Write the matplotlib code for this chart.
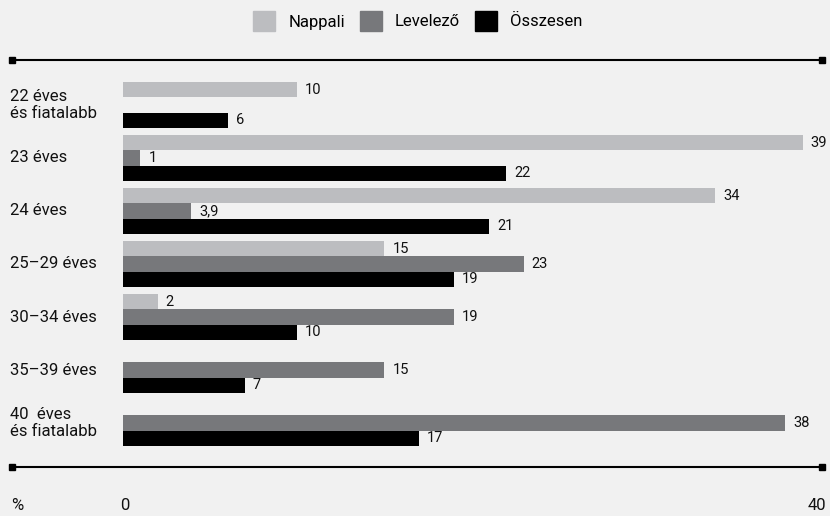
import numpy as np
import matplotlib.pyplot as plt
from matplotlib.lines import Line2D
from matplotlib import transforms

plt.rcParams['font.family'] = ['Liberation Sans Narrow', 'Roboto', 'DejaVu Sans']

categories = ['22 éves\nés fiatalabb', '23 éves', '24 éves', '25–29 éves',
              '30–34 éves', '35–39 éves', '40  éves\nés fiatalabb']
nappali = [10, 39, 34, 15, 2, np.nan, np.nan]
levelezo = [np.nan, 1, 3.9, 23, 19, 15, 38]
osszesen = [6, 22, 21, 19, 10, 7, 17]
xticks = [0, 40]

series = [('Nappali', nappali, '#bcbdc0'),
          ('Levelező', levelezo, '#77787b'),
          ('Összesen', osszesen, '#000000')]

bg = '#f1f1f1'
W, H = 830, 516
fig = plt.figure(figsize=(W / 100, H / 100), dpi=100, facecolor=bg)

# axes box in pixels: x 123..820, y 60..468 (from top)
ax = fig.add_axes([123 / W, 1 - 468 / H, (820 - 123) / W, (468 - 60) / H])
ax.set_facecolor(bg)

bh = 0.292
y = np.arange(len(categories))
for k, (name, vals, col) in enumerate(series):
    off = (k - 1) * bh
    ax.barh(y + off, vals, height=bh, color=col, label=name)
    for yi, v in zip(y, vals):
        if np.isnan(v):
            continue
        txt = f'{v:g}'.replace('.', ',')
        ax.annotate(txt, (v, yi + off), xytext=(8, 0), textcoords='offset pixels',
                    ha='left', va='center', fontsize=10.5, color='#111111')

ax.set_xlim(0, 40)
ax.set_ylim(6.849, -0.849)
for s in ax.spines.values():
    s.set_visible(False)
ax.set_yticks([])
ax.set_xticks([])

# category labels, left aligned at the figure edge
tr = transforms.blended_transform_factory(fig.transFigure, ax.transData)
for yi, c in zip(y, categories):
    ax.text(10 / W, yi, c, transform=tr, ha='left', va='center',
            fontsize=12, linespacing=1.1, color='#111111')

# x tick labels below the bottom rule
trx = transforms.blended_transform_factory(ax.transData, fig.transFigure)
for t in xticks:
    ax.annotate(str(t), (t, 1 - 505 / H), xycoords=trx, xytext=(2 if t == 0 else -3, 0),
                textcoords='offset pixels', ha='center', va='center',
                fontsize=12, color='#111111', annotation_clip=False)
fig.text(11 / W, 1 - 505 / H, '%', ha='left', va='center', fontsize=12, color='#111111')

# top and bottom rules with square end caps
for py in (60, 467):
    yy = 1 - py / H
    fig.add_artist(Line2D([12 / W, 822 / W], [yy, yy], transform=fig.transFigure,
                          color='black', lw=1.5))
    fig.add_artist(Line2D([12 / W, 822 / W], [yy, yy], transform=fig.transFigure,
                          color='black', lw=0, marker='s', markersize=4.5))

handles = [plt.Rectangle((0, 0), 1, 1, color=c) for _, _, c in series]
fig.legend(handles, [n for n, _, _ in series], loc='center', bbox_to_anchor=(418 / W, 1 - 21 / H),
           ncol=3, frameon=False, fontsize=12, handlelength=1.3, handleheight=1.5,
           handletextpad=0.8, columnspacing=0.9)

fig.savefig('out.png', dpi=100, facecolor=bg)
